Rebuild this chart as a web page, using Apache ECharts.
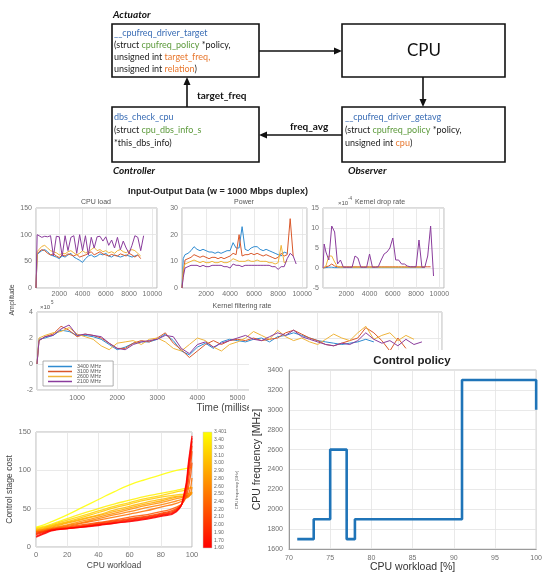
<!DOCTYPE html>
<html><head><meta charset="utf-8">
<script src="https://cdn.jsdelivr.net/npm/echarts@6/dist/echarts.min.js"></script>
<style>html,body{margin:0;padding:0;background:#fff}#c{width:545px;height:574px}</style>
</head><body><div id="c"></div>
<script>
// ---------------- DATA ----------------
const seriesNames = ['3400 MHz','3100 MHz','2600 MHz','2100 MHz'];
const tTop = [0,100,250,500,750,1000,1250,1500,1750,2000,2250,2500,2750,3000,3250,3500,3750,4000,4250,4500,4750,5000,5250,5500,5750,6000,6250,6500,6750,7000,7250,7500,7750,8000,8250,8500,8750,9000,9250,9500];

const loadBlue   = [0,62,66,70,72,68,62,60,58,55,60,58,62,65,58,55,52,48,55,60,62,58,60,64,62,65,60,58,62,60,58,60,62,60,58,60,62,null,null,null];
const loadOrange = [0,64,68,72,70,65,62,64,60,57,62,60,64,62,60,63,58,60,62,65,68,62,65,68,64,62,60,63,61,60,64,62,60,65,62,58,62,55,null,null];
const loadYellow = [0,68,72,78,80,75,70,68,66,62,65,64,68,70,66,62,65,70,66,68,72,76,70,72,68,70,66,68,65,70,72,68,66,70,72,70,65,60,null,null];
const loadPurple = [0,100,98,95,97,96,98,60,97,96,60,98,70,95,98,65,100,70,98,62,95,75,96,97,88,96,80,90,75,95,72,88,75,65,80,98,95,70,98,null];

const powerBlue   = [0,11,12.5,13,14,15.5,14.5,14,14.5,14,13.5,13.5,13,13.5,13,13.5,14,14,17,15,15,23,14.5,14,15,15.5,15.5,14.5,14,14.5,14,13.5,13,12.5,12,13.5,13,null,null,null];
const powerOrange = [0,5,10.5,11,11.5,12.5,12,11.5,12,11.5,11,11.5,11.5,11,11.5,11,11.5,12,13,12.5,20,12,12.5,12.5,13,12.5,13,12.5,12,12.5,12,11.5,11,11.5,13,12,12.5,26,12,null];
const powerYellow = [0,7,9,9.5,10,10.5,10,9.5,10,9.5,9.5,10,9.5,9.5,10,9.5,9.5,10,11,10.5,10,10,10,10.5,10,10,10.5,10,10,10,9.5,9.5,9,9.5,16,9.5,10,null,null,null];
const powerPurple = [0,4,7.5,8,8.5,8.5,8.5,8,8.5,8,8,8.5,8.5,8.5,8.5,8,8,7.5,9,8.5,8.5,8,8.5,8.5,8.5,8.5,8.5,8.5,8.5,8.5,8.5,8,8,7,8,8,11,13,12,9];

const dropBlue   = [0,0.1,0.1,0.2,0.2,0.1,0.1,0.1,0.1,0.1,0.1,0.1,0.1,0.1,0.1,0.1,0.1,0.1,0.1,0.1,0.1,0.1,0.1,0.1,0.1,0.1,0.1,0.1,0.1,0.1,0.1,0.1,0.1,0.1,0.1,0.1,0.1,null,null,null];
const dropOrange = [0,0.3,0.3,0.5,1,0.5,0.3,0.3,0.3,0.3,0.3,0.3,0.3,0.3,0.3,0.3,0.3,0.3,0.3,0.3,0.3,0.3,0.3,0.3,0.3,0.3,0.3,0.3,0.3,0.3,0.3,0.3,0.3,0.3,0.3,0.3,0.3,0.3,0.3,null];
const dropYellow = [0,0.2,0.5,3,3,1.5,0.3,0.2,0.2,0.2,0.2,0.2,0.2,0.2,0.2,0.2,0.2,0.2,0.2,0.2,0.2,0.2,0.2,0.2,0.2,0.2,0.2,0.2,0.2,0.2,0.2,0.2,0.2,0.2,0.2,0.2,0.2,null,null,null];
const dropPurple = [0,6,4,2,10.5,9,1,2,0.2,0.2,0.2,0.2,3,2.5,0.2,0.2,0.2,3.5,0.2,0.2,0.3,2,3.5,4,5,7.5,2,2,1,1,0.5,0.3,0.3,0.3,7,0.2,0.2,3,10.5,-2];

const tFilt = [0,50,200,400,600,800,1000,1200,1400,1600,1800,2000,2200,2400,2600,2800,3000,3200,3400,3600,3800,4000,4200,4400,4600,4800,5000,5200,5400,5600,5800,6000,6200,6400,6600,6800,7000,7200,7400,7600,7800,8000,8200,8400,8600,8800,9000,9200,9400,9600];
const filtBlue   = [0,1.9,2.0,2.2,2.6,2.5,2.2,2.2,2.1,1.9,1.5,1.1,1.3,1.6,1.7,1.7,1.9,2.3,1.8,1.0,0.7,1.3,1.6,1.2,1.7,1.9,1.8,1.7,1.9,2.0,1.7,2.1,2.2,2.4,2.2,2.0,1.8,1.7,1.6,1.5,1.6,1.7,1.9,1.7,null,null,null,null,null,null];
const filtOrange = [0,1.8,2.1,2.3,2.9,2.6,2.1,2.3,2.2,2.0,1.6,1.2,1.2,1.6,1.8,1.7,2.0,2.4,1.6,1.1,0.5,1.0,1.5,1.8,1.5,1.8,1.9,1.8,2.0,1.8,1.9,2.0,2.4,2.6,2.3,2.0,1.8,1.5,1.4,1.6,1.8,2.0,2.8,2.4,1.8,1.0,2.0,1.2,null,null];
const filtYellow = [0,2.0,2.2,2.4,2.5,2.8,2.3,2.1,1.9,1.4,1.1,1.6,1.7,1.8,1.5,1.9,2.0,1.7,1.2,1.0,1.5,2.0,1.8,1.3,1.0,1.5,1.7,2.0,2.5,2.2,1.9,2.6,2.1,1.8,2.0,1.7,1.5,1.9,2.3,2.0,1.8,2.4,2.9,1.9,2.2,2.4,1.8,2.2,1.9,null];
const filtPurple = [0,1.8,2.1,2.2,2.7,3.0,2.2,2.3,2.2,2.1,1.6,1.2,1.1,1.5,1.7,1.8,1.9,2.2,2.1,1.2,0.8,1.5,1.7,1.3,1.6,1.8,2.0,2.2,1.9,1.8,2.1,2.4,2.2,2.6,2.1,1.9,1.7,1.5,1.4,1.6,1.5,1.8,2.4,1.9,1.6,1.8,1.4,1.9,1.5,1.7];

const costX = [0,5,10,20,30,40,50,60,70,80,90,95,98,100];
const costFreqs = [3.40,3.30,3.10,3.00,2.90,2.80,2.60,2.50,2.40,2.20,2.10,2.00,1.90,1.70,1.60];
const cost340 = [26,29,33,42,52,62,72,81,88,94,100,102,103,104];
const cost330 = [25,27,30,37,44,50,56,61,66,70,74,76,77,78];
const cost310 = [24,26,29,35,41,47,53,58,63,67,72,74,76,78];
const cost300 = [23,25,28,33,39,45,51,56,61,65,68,69,70,72];
const cost290 = [22,24,27,32,37,42,48,53,58,62,66,67,68,70];
const cost280 = [22,23,26,31,36,41,46,51,56,60,65,66,67,70];
const cost260 = [21,23,25,29,34,39,44,49,54,58,63,65,66,72];
const cost250 = [20,22,24,28,32,37,42,46,51,55,60,63,66,78];
const cost240 = [20,21,24,27,31,35,39,43,47,52,57,62,70,90];
const cost220 = [19,21,23,26,29,32,35,39,42,46,52,60,80,110];
const cost210 = [18,20,23,25,28,31,34,37,40,44,50,62,90,125];
const cost200 = [17,20,22,25,27,30,33,36,39,43,49,64,100,132];
const cost190 = [16,19,22,24,27,29,32,35,38,42,48,66,105,138];
const cost170 = [14,18,22,24,26,29,31,34,37,41,47,68,110,142];
const cost160 = [13,17,21,24,26,28,31,33,36,40,46,70,115,145];
const costCurves = [cost340,cost330,cost310,cost300,cost290,cost280,cost260,cost250,cost240,cost220,cost210,cost200,cost190,cost170,cost160];
const colorbarLabels = ['3.401','3.40','3.30','3.10','3.00','2.90','2.80','2.60','2.50','2.40','2.20','2.10','2.00','1.90','1.70','1.60'];

const policyX = [71,73,73,75,75,77,77,78,78,91,91,100,100];
const policyY = [1700,1700,1900,1900,2600,2600,1700,1700,1900,1900,3300,3300,3000];

// ---------------- STYLE ----------------
const FONT = "'Liberation Sans', Arial, sans-serif";
const LATO = "Lato, 'Open Sans', sans-serif";
const colors = ['#2f8bd0','#d9582a','#efb43a','#8a3c9c'];
const plain = v => String(v);
const lbl = (fs, margin, fmt) => ({fontSize:fs, color:'#707070', fontFamily:FONT, margin:margin, formatter:fmt||plain});
const split = {show:true, lineStyle:{color:'#e3e3e3', width:0.8}};
const noLine = {show:false};
const box = (l,t,w,h,extra) => Object.assign({left:l, top:t, width:w, height:h, show:true, borderColor:'#b8b8b8', borderWidth:1, backgroundColor:'transparent'}, extra||{});
const pairs = (t, v) => t.map((x,i)=>[x, v[i]]).filter(p => p[1] !== null);
const topFmt = v => (v > 0 && v <= 10000) ? String(v) : '';

const grids = [
  box(36,208,121,80), box(182,208,125,80), box(323,208,121,80),
  box(37,312,405,78), box(36,432,156,115), box(289,370,255,182,{z:20, backgroundColor:'#fff', borderColor:'#c4c4c4'})
];
function xTop(gi){return {gridIndex:gi,type:'value',min:0,max:10400,interval:2000,axisLabel:lbl(7,3,topFmt),splitLine:split,axisLine:noLine,axisTick:noLine};}
const xAxes = [xTop(0), xTop(1), xTop(2),
  {gridIndex:3,type:'value',min:0,max:10100,interval:1000,axisLabel:lbl(7,5,topFmt),splitLine:split,axisLine:noLine,axisTick:noLine,
   name:'Time (milliseconds)',nameLocation:'middle',nameGap:12,nameTextStyle:{fontSize:10,color:'#444',fontFamily:FONT}},
  {gridIndex:4,type:'value',min:0,max:100,interval:20,axisLabel:lbl(7.5,4),splitLine:split,axisLine:noLine,axisTick:noLine,
   name:'CPU workload',nameLocation:'middle',nameGap:14,nameTextStyle:{fontSize:8.5,color:'#444',fontFamily:FONT}},
  {gridIndex:5,type:'value',min:70,max:100,interval:5,z:20,axisLabel:lbl(7,5),splitLine:split,axisLine:{show:true,lineStyle:{color:'#9a9a9a'}},axisTick:noLine,
   name:'CPU workload [%]',nameLocation:'middle',nameGap:9,nameTextStyle:{fontSize:10.5,color:'#333',fontFamily:FONT}}
];
const yAxes = [
  {gridIndex:0,type:'value',min:0,max:150,interval:50,axisLabel:lbl(7,4),splitLine:split,axisLine:noLine,axisTick:noLine},
  {gridIndex:1,type:'value',min:0,max:30,interval:10,axisLabel:lbl(7,4),splitLine:split,axisLine:noLine,axisTick:noLine},
  {gridIndex:2,type:'value',min:-5,max:15,interval:5,axisLabel:lbl(7,4),splitLine:split,axisLine:noLine,axisTick:noLine},
  {gridIndex:3,type:'value',min:-2,max:4,interval:2,axisLabel:lbl(7,4),splitLine:split,axisLine:noLine,axisTick:noLine},
  {gridIndex:4,type:'value',min:0,max:150,interval:50,axisLabel:lbl(7.5,5),splitLine:split,axisLine:noLine,axisTick:noLine,
   name:'Control stage cost',nameLocation:'middle',nameGap:20,nameTextStyle:{fontSize:8.5,color:'#444',fontFamily:FONT}},
  {gridIndex:5,type:'value',min:1600,max:3400,interval:200,z:20,axisLabel:lbl(7,6),splitLine:split,axisLine:{show:true,lineStyle:{color:'#9a9a9a'}},axisTick:noLine,
   name:'CPU frequency [MHz]',nameLocation:'middle',nameGap:26,nameTextStyle:{fontSize:10.5,color:'#333',fontFamily:FONT}}
];

const series = [];
function addGroup(gi, t, arrs){
  arrs.forEach((a,k)=>series.push({type:'line',name:seriesNames[k],xAxisIndex:gi,yAxisIndex:gi,data:pairs(t,a),
    showSymbol:false,symbol:'none',lineStyle:{width:1,color:colors[k]},itemStyle:{color:colors[k]},animation:false,silent:true}));
}
addGroup(0, tTop, [loadBlue,loadOrange,loadYellow,loadPurple]);
addGroup(1, tTop, [powerBlue,powerOrange,powerYellow,powerPurple]);
addGroup(2, tTop, [dropBlue,dropOrange,dropYellow,dropPurple]);
addGroup(3, tFilt, [filtBlue,filtOrange,filtYellow,filtPurple]);

function autumn(f){const t=Math.max(0,Math.min(1,(f-1.6)/1.801));return 'rgb(255,'+Math.round(255*t)+',0)';}
costCurves.forEach((c,i)=>series.push({type:'line',name:'cost '+costFreqs[i],xAxisIndex:4,yAxisIndex:4,smooth:true,
  data:costX.map((x,j)=>[x,c[j]]),showSymbol:false,symbol:'none',lineStyle:{width:1.3,color:autumn(costFreqs[i]),opacity:0.85},animation:false,silent:true}));

series.push({type:'line',name:'policy',xAxisIndex:5,yAxisIndex:5,z:25,data:policyX.map((x,i)=>[x,policyY[i]]),
  showSymbol:false,symbol:'none',lineStyle:{width:2.6,color:'#1f74b8'},animation:false,silent:true});

// ---------------- GRAPHIC (block diagram, titles, colorbar) ----------------
const g = [];
const txt = (x,y,text,font,fill,align,va,extra) => g.push(Object.assign({type:'text',x:x,y:y,silent:true,
  style:{text:text,font:font,fill:fill||'#222',align:align||'left',verticalAlign:va||'middle',textAlign:align||'left',textVerticalAlign:va||'middle'}},extra||{}));
const richTxt = (x,y,text,rich) => g.push({type:'text',x:x,y:y,silent:true,style:{text:text,rich:rich,font:'9px '+LATO,fill:'#222',align:'left',verticalAlign:'middle'}});
const rect = (x,y,w,h) => g.push({type:'rect',shape:{x:x,y:y,width:w,height:h},style:{fill:'#fff',stroke:'#111',lineWidth:1.6},silent:true});
const line = (x1,y1,x2,y2) => g.push({type:'line',shape:{x1,y1,x2,y2},style:{stroke:'#111',lineWidth:1.6},silent:true});
const tri = (pts) => g.push({type:'polygon',shape:{points:pts},style:{fill:'#111'},silent:true});

rect(112,24,147,53); rect(342,24,163,53); rect(112,107,147,55); rect(342,107,163,55);
line(259,51,336,51); tri([[342,51],[334,47.5],[334,54.5]]);
line(423,77,423,101); tri([[423,107],[419.5,99],[426.5,99]]);
line(342,135,265,135); tri([[259,135],[267,131.5],[267,138.5]]);
line(187,107,187,83); tri([[187,77],[183.5,85],[190.5,85]]);

const R = {b:{fill:'#3a6db5',font:'9px '+LATO},k:{fill:'#222',font:'9px '+LATO},gr:{fill:'#5d9a3c',font:'9px '+LATO},o:{fill:'#e8782f',font:'9px '+LATO}};
richTxt(114,33,'{b|__cpufreq_driver_target}',R);
richTxt(114,45,'{k|(struct }{gr|cpufreq_policy}{k| *policy,}',R);
richTxt(114,57,'{k|unsigned int }{o|target_freq,}',R);
richTxt(114,69,'{k|unsigned int }{o|relation}{k|)}',R);
richTxt(114,117,'{b|dbs_check_cpu}',R);
richTxt(114,130,'{k|(struct }{gr|cpu_dbs_info_s}',R);
richTxt(114,143,'{k|*this_dbs_info)}',R);
richTxt(345,117,'{b|__cpufreq_driver_getavg}',R);
richTxt(345,130,'{k|(struct }{gr|cpufreq_policy}{k| *policy,}',R);
richTxt(345,143,'{k|unsigned int }{o|cpu}{k|)}',R);
txt(424,51,'CPU','17px '+LATO,'#111','center','middle');
txt(113,15,'Actuator','italic bold 10px '+LATO,'#111');
txt(113,171,'Controller','italic bold 10px '+LATO,'#111');
txt(348,171,'Observer','italic bold 10px '+LATO,'#111');
txt(197,96,'target_freq','bold 10px '+LATO,'#111');
txt(290,127,'freq_avg','bold 10px '+LATO,'#111');

// subplot titles
txt(218,192,'Input-Output Data (w = 1000 Mbps duplex)','bold 9px '+FONT,'#222','center');
txt(96,202,'CPU load','7px '+FONT,'#555','center');
txt(244,202,'Power','7px '+FONT,'#555','center');
txt(338,203,'\u00d710','6px '+FONT,'#555');
txt(348,199,'-4','4.5px '+FONT,'#555');
txt(380,202,'Kernel drop rate','7px '+FONT,'#555','center');
txt(242,306,'Kernel filtering rate','7px '+FONT,'#555','center');
txt(40,307,'\u00d710','6px '+FONT,'#555');
txt(51,303,'5','4.5px '+FONT,'#555');
g.push({type:'text',x:12,y:300,rotation:Math.PI/2,silent:true,style:{text:'Amplitude',font:'7px '+FONT,fill:'#444',align:'center',verticalAlign:'middle'}});

// colorbar
g.push({type:'rect',shape:{x:203,y:432,width:9,height:116},silent:true,
  style:{fill:{type:'linear',x:0,y:0,x2:0,y2:1,colorStops:[{offset:0,color:'#ffff00'},{offset:1,color:'#ff0000'}]},stroke:'#c8c8c8',lineWidth:0.5}});
colorbarLabels.forEach((s,i)=>txt(214,432+i*(116/15),s,'5px '+FONT,'#666','left','middle'));
g.push({type:'text',x:237,y:490,rotation:Math.PI/2,silent:true,style:{text:'CPU frequency [GHz]',font:'4px '+FONT,fill:'#555',align:'center',verticalAlign:'middle'}});

// white panel behind control policy
g.push({type:'rect',z:10,shape:{x:249,y:350,width:300,height:230},style:{fill:'#fff'},silent:true});
g.push({type:'text',z:30,x:412,y:361,silent:true,style:{text:'Control policy',font:'bold 11.5px '+FONT,fill:'#222',align:'center',verticalAlign:'middle'}});

const option = {
  animation:false,
  grid:grids, xAxis:xAxes, yAxis:yAxes, series:series, graphic:{elements:g},
  legend:{data:seriesNames,orient:'vertical',left:43,top:361,itemWidth:24,itemHeight:1.5,itemGap:0,icon:'rect',
    padding:[3,12,2,5],borderColor:'#9a9a9a',borderWidth:0.8,backgroundColor:'#fff',selectedMode:false,
    textStyle:{fontSize:5.3,color:'#555',fontFamily:FONT,lineHeight:5}}
};
const chart = echarts.init(document.getElementById('c'), null, {renderer:'canvas'});
chart.setOption(option);
</script></body></html>
